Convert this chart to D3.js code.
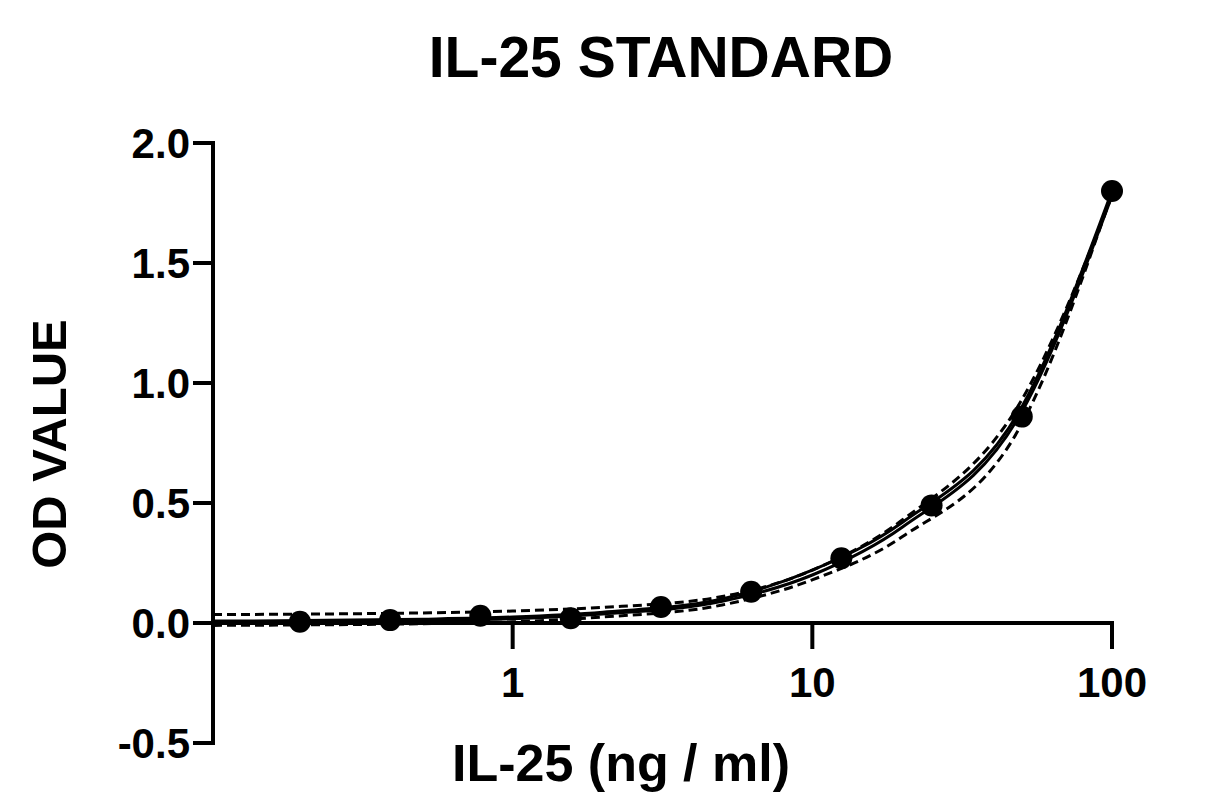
<!DOCTYPE html>
<html><head><meta charset="utf-8">
<script src="https://cdn.jsdelivr.net/npm/d3@7"></script>
<style>body{margin:0;background:#fff}text{font-family:"Liberation Sans",Arial,sans-serif;font-weight:bold}</style>
</head><body><div id="chart"></div>
<script>
// standards (ng/ml) and mean OD
var conc = [100, 50, 25, 12.5, 6.25, 3.125, 1.5625, 0.78, 0.39, 0.195];
var od = [1.80, 0.86, 0.49, 0.27, 0.13, 0.067, 0.02, 0.03, 0.012, 0.005];
// fitted curves
var curveX = [0.1, 0.2, 0.5, 1, 2, 5, 10, 20, 50, 100];
var fitA = [0.008, 0.010, 0.016, 0.025, 0.045, 0.10, 0.22, 0.42, 0.90, 1.80];
var fitB = [0.002, 0.004, 0.010, 0.018, 0.038, 0.09, 0.20, 0.40, 0.88, 1.78];
var bandHi = [0.035, 0.037, 0.042, 0.05, 0.065, 0.11, 0.22, 0.43, 0.93, 1.78];
var bandLo = [-0.01, -0.008, -0.003, 0.005, 0.025, 0.075, 0.18, 0.36, 0.83, 1.79];
var xTicks = [1, 10, 100];
var yTicks = [-0.5, 0, 0.5, 1.0, 1.5, 2.0];

var svg = d3.select('#chart').append('svg').attr('width', 1221).attr('height', 809);
var x = d3.scaleLog().domain([0.1, 100]).range([213, 1112]);
var y = d3.scaleLinear().domain([-0.5, 2.0]).range([743, 143]);

svg.append('text').attr('x', 661).attr('y', 77).attr('text-anchor', 'middle')
    .style('font-size', '57px').text('IL-25 STANDARD');

// y axis
var ya = svg.append('g');
ya.append('line').attr('x1', 213).attr('x2', 213).attr('y1', 141).attr('y2', 745)
    .attr('stroke', '#000').attr('stroke-width', 4);
yTicks.forEach(function (t) {
    ya.append('line').attr('x1', 193).attr('x2', 213).attr('y1', y(t)).attr('y2', y(t))
        .attr('stroke', '#000').attr('stroke-width', 4);
    ya.append('text').attr('x', 190).attr('y', y(t) + 15).attr('text-anchor', 'end')
        .style('font-size', '42px').text(d3.format('.1f')(t).replace('\u2212', '-'));
});

// x axis at y=0
var xa = svg.append('g');
xa.append('line').attr('x1', 211).attr('x2', 1114).attr('y1', y(0)).attr('y2', y(0))
    .attr('stroke', '#000').attr('stroke-width', 4);
xTicks.forEach(function (t) {
    xa.append('line').attr('x1', x(t)).attr('x2', x(t)).attr('y1', y(0)).attr('y2', y(0) + 26)
        .attr('stroke', '#000').attr('stroke-width', 4);
    xa.append('text').attr('x', x(t)).attr('y', 697).attr('text-anchor', 'middle')
        .style('font-size', '42px').text(t);
});

svg.append('text').attr('x', 621).attr('y', 781).attr('text-anchor', 'middle')
    .style('font-size', '52px').text('IL-25 (ng / ml)');
svg.append('text').attr('transform', 'translate(66,444) rotate(-90)').attr('text-anchor', 'middle')
    .style('font-size', '49px').text('OD VALUE');

var line = d3.line().x(function (d) { return x(d[0]); }).y(function (d) { return y(d[1]); })
    .curve(d3.curveMonotoneX);
[[fitA, null], [fitB, null], [bandHi, '9,5'], [bandLo, '9,5']].forEach(function (c) {
    svg.append('path').datum(d3.zip(curveX, c[0])).attr('d', line)
        .attr('fill', 'none').attr('stroke', '#000').attr('stroke-width', 3)
        .attr('stroke-dasharray', c[1]);
});

svg.selectAll('circle.pt').data(d3.zip(conc, od)).enter().append('circle')
    .attr('class', 'pt').attr('cx', function (d) { return x(d[0]); })
    .attr('cy', function (d) { return y(d[1]); }).attr('r', 11).attr('fill', '#000');
</script></body></html>
